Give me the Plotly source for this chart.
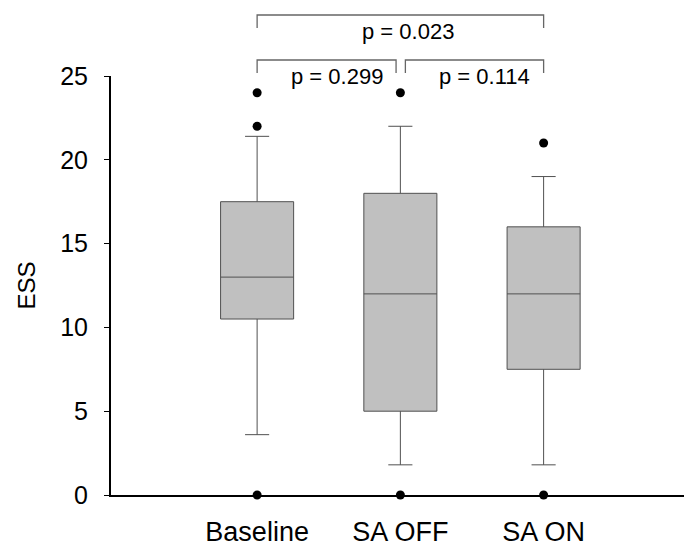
import plotly.graph_objects as go

categories = ["Baseline", "SA OFF", "SA ON"]
q1 = [10.5, 5.0, 7.5]
median = [13.0, 12.0, 12.0]
q3 = [17.5, 18.0, 16.0]
lower = [3.6, 1.8, 1.8]
upper = [21.4, 22.0, 19.0]
outlier_x = ["Baseline", "Baseline", "Baseline", "SA OFF", "SA OFF", "SA ON", "SA ON"]
outlier_y = [24, 22, 0, 24, 0, 21, 0]
y_ticks = [0, 5, 10, 15, 20, 25]

# significance brackets: (from index, to index, level, label)
brackets = [(0, 2, "top", "p = 0.023"), (0, 1, "low", "p = 0.299"), (1, 2, "low", "p = 0.114")]

fig = go.Figure()
fig.add_trace(go.Box(
    x=categories, q1=q1, median=median, q3=q3,
    lowerfence=lower, upperfence=upper,
    fillcolor="#c0c0c0", line=dict(color="#505050", width=1),
    width=0.51, whiskerwidth=0.33, boxpoints=False, showlegend=False,
    hoverinfo="skip",
))
fig.add_trace(go.Scatter(
    x=outlier_x, y=outlier_y, mode="markers",
    marker=dict(color="black", size=9), cliponaxis=False, showlegend=False,
))

W, H = 684, 544
top_px = 76
bot_px = 495
left_px = 111
plot_h = bot_px - top_px

def paper_y(px):
    return (bot_px - px) / plot_h

for i, j, lvl, label in brackets:
    if lvl == "top":
        yt, yb, ty = paper_y(15), paper_y(28), paper_y(31)
        x0, x1 = i, j
        tx = (x0 + x1) / 2 + 0.05
    else:
        yt, yb, ty = paper_y(60), paper_y(73), paper_y(76)
        x0 = i + (0.0 if i == 0 else 0.035)
        x1 = j - (0.03 if j == 1 else 0.0)
        tx = (x0 + x1) / 2 + 0.07
    fig.add_shape(type="path", xref="x", yref="paper",
                  path=f"M {x0},{yb} L {x0},{yt} L {x1},{yt} L {x1},{yb}",
                  line=dict(color="#666666", width=1.3))
    fig.add_annotation(x=tx, y=ty, xref="x", yref="paper", text=label, showarrow=False,
                       font=dict(size=22, color="black"), yanchor="middle")

fig.update_layout(
    width=W, height=H,
    margin=dict(l=left_px, r=0, t=top_px, b=H - bot_px, autoexpand=False),
    paper_bgcolor="white", plot_bgcolor="white",
    font=dict(family="Liberation Sans, Arial, sans-serif", color="black"),
    xaxis=dict(type="category", range=[-1.02, 2.98], showline=True, linecolor="black",
               linewidth=2, ticks="", showgrid=False, zeroline=False,
               tickfont=dict(size=27), ticklabelstandoff=12, automargin=False),
    yaxis=dict(range=[0, 25], tickvals=y_ticks, showline=True,
               linecolor="black", linewidth=2, ticks="outside", ticklen=5,
               tickwidth=1, tickcolor="black", showgrid=False, zeroline=False,
               tickfont=dict(size=25), ticklabelstandoff=11, automargin=False,
               title=dict(text="ESS", font=dict(size=24), standoff=18)),
)

fig.write_html("out.html", config={"displayModeBar": False},
               post_script="document.body.style.margin='0';document.body.style.overflow='hidden';")
